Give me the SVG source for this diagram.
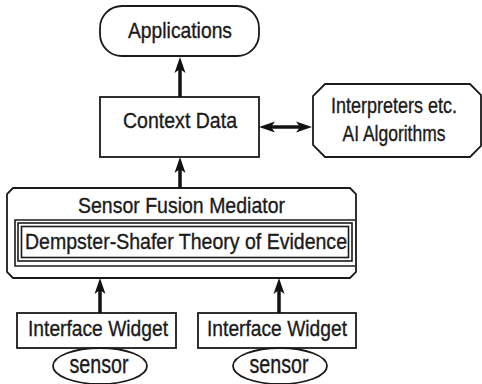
<svg xmlns="http://www.w3.org/2000/svg" width="482" height="384" viewBox="0 0 482 384">
<style>
  .box { fill: #fff; stroke: #1a1a1a; stroke-width: 1.8; }
  .thin { fill: none; stroke: #1a1a1a; stroke-width: 1.6; }
  .t { font-family: "Liberation Sans", Arial, sans-serif; font-size: 22.5px; fill: #1a1a1a; stroke: #1a1a1a; stroke-width: 0.35; text-anchor: middle; }
  .i { font-size: 21.5px; }
  .s { font-size: 25px; }
  .conn { stroke: #111; stroke-width: 3.5; fill: none; marker-end: url(#ah); }
  .bi { marker-start: url(#ah); }
</style>
<defs>
  <marker id="ah" viewBox="-17 -6 18 12" refX="-10" refY="0" markerWidth="18" markerHeight="12" markerUnits="userSpaceOnUse" orient="auto-start-reverse">
    <path d="M0,0 L-16,-5.5 L-12,0 L-16,5.5 Z" fill="#111"/>
  </marker>
</defs>
<rect width="482" height="384" fill="#fff"/>

<g id="applications">
  <rect class="box" x="100" y="6" width="159" height="50" rx="22" ry="22"/>
  <text class="t" x="180" y="38" textLength="104" lengthAdjust="spacingAndGlyphs">Applications</text>
</g>

<g id="context-data">
  <rect class="box" x="100" y="97" width="159" height="60"/>
  <text class="t" x="180" y="128" textLength="114" lengthAdjust="spacingAndGlyphs">Context Data</text>
</g>

<g id="interpreters">
  <path class="box" d="M325,84 H470 L481,95 V146 L470,157 H325 L313,145 V96 Z"/>
  <text class="t i" x="394" y="113" textLength="126" lengthAdjust="spacingAndGlyphs">Interpreters etc.</text>
  <text class="t i" x="394" y="141" textLength="103" lengthAdjust="spacingAndGlyphs">AI Algorithms</text>
</g>

<g id="sensor-fusion-mediator">
  <path class="box" d="M13,188 H350 L356,194 V272 L350,278 H13 L7,272 V194 Z"/>
  <text class="t" x="181.5" y="213" textLength="207" lengthAdjust="spacingAndGlyphs">Sensor Fusion Mediator</text>
  <path class="thin" d="M355,220 H15 V266 H355"/>
</g>

<g id="dempster-shafer">
  <rect class="thin" x="18" y="223" width="334" height="38"/>
  <rect class="thin" x="21.5" y="226.5" width="327" height="31"/>
  <text class="t" x="186" y="249" textLength="322" lengthAdjust="spacingAndGlyphs">Dempster-Shafer Theory of Evidence</text>
</g>

<g id="widget-left">
  <rect class="box" x="17" y="313" width="159" height="35"/>
  <text class="t" x="98" y="336" textLength="140" lengthAdjust="spacingAndGlyphs">Interface Widget</text>
</g>

<g id="widget-right">
  <rect class="box" x="198" y="313" width="158" height="35"/>
  <text class="t" x="277" y="336" textLength="140" lengthAdjust="spacingAndGlyphs">Interface Widget</text>
</g>

<g id="sensor-left">
  <ellipse class="box" cx="100" cy="366" rx="47" ry="18"/>
  <text class="t s" x="99" y="373" textLength="59" lengthAdjust="spacingAndGlyphs">sensor</text>
</g>

<g id="sensor-right">
  <ellipse class="box" cx="280" cy="366" rx="47" ry="18"/>
  <text class="t s" x="279" y="373" textLength="59" lengthAdjust="spacingAndGlyphs">sensor</text>
</g>

<g id="connectors">
  <line class="conn" x1="180" y1="97" x2="180" y2="67"/>
  <line class="conn" x1="180" y1="188" x2="180" y2="167"/>
  <line class="conn" x1="100" y1="313" x2="100" y2="288"/>
  <line class="conn" x1="279" y1="313" x2="279" y2="288"/>
  <line class="conn bi" x1="269" y1="127" x2="302" y2="127"/>
</g>
</svg>
